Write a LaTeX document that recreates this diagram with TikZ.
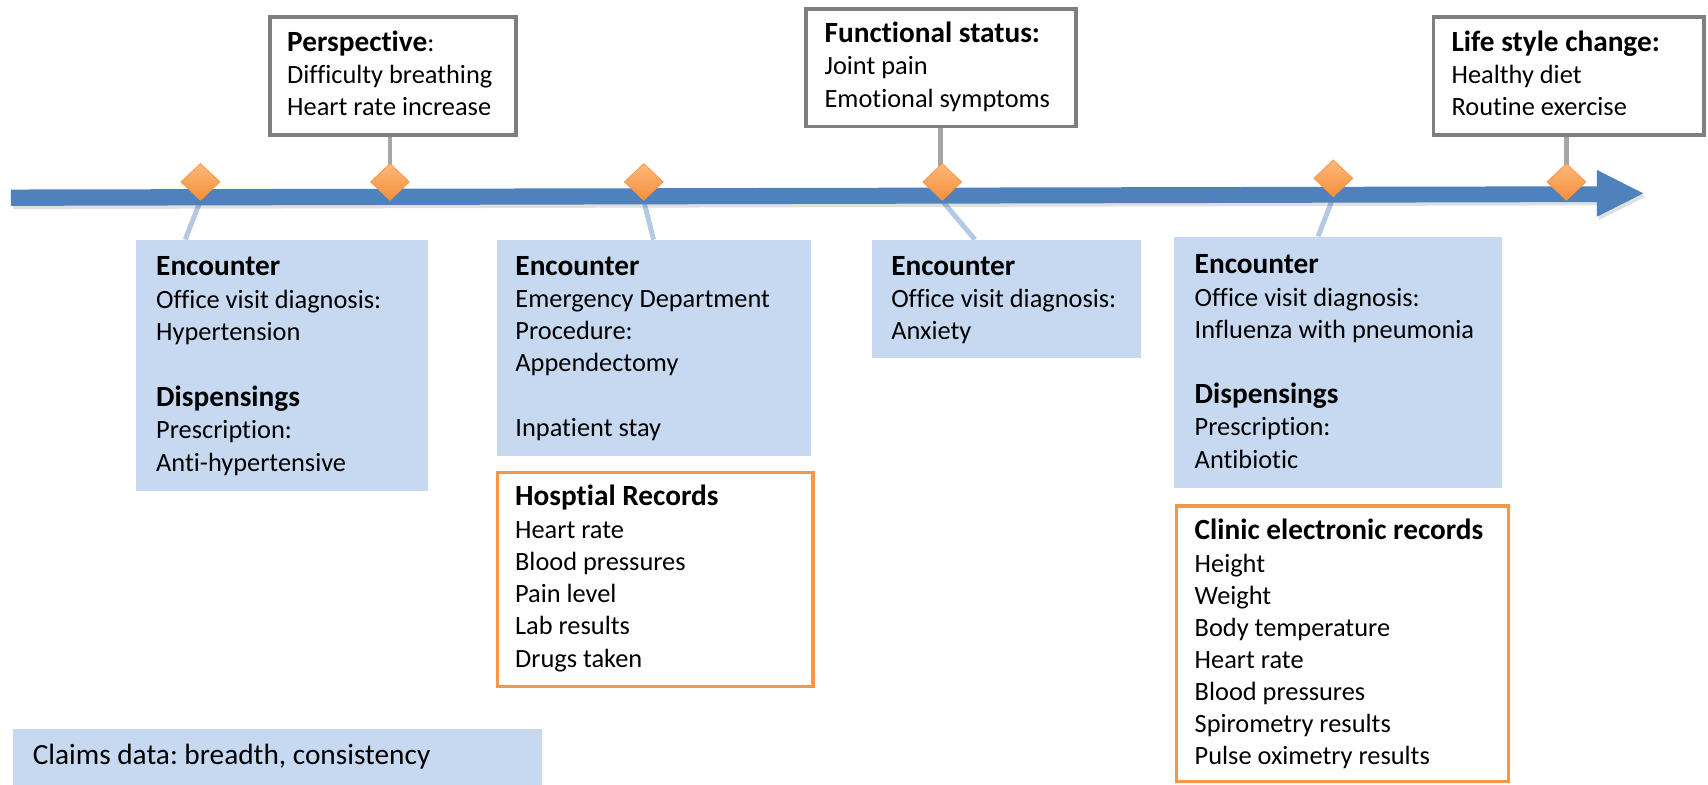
\documentclass[tikz,border=0pt]{standalone}
\usepackage{fontspec}
\setmainfont{Carlito}[Ligatures={NoCommon}]
\frenchspacing
\usetikzlibrary{shapes.geometric}
\definecolor{barblue}{HTML}{4F81BD}
\definecolor{boxblue}{HTML}{C6D9F1}
\definecolor{connblue}{HTML}{B4C9E4}
\definecolor{orangeline}{HTML}{F79646}
\definecolor{orangetop}{HTML}{FFB87A}
\definecolor{orangebot}{HTML}{F68F3A}
\definecolor{grayline}{HTML}{7F7F7F}
\definecolor{grayconn}{HTML}{A5A5A5}
\pgfdeclarelayer{bg}
\pgfsetlayers{bg,main}
\tikzset{
  txt/.style={anchor=base west, inner sep=0pt, font=\fontsize{24.2}{29.6}\selectfont},
  bluebox/.style={fill=boxblue, draw=none, anchor=north west, inner sep=0pt},
  graybox/.style={fill=white, draw=grayline, line width=3.5pt, anchor=north west, inner sep=0pt},
  orbox/.style={fill=white, draw=orangeline, line width=3pt, anchor=north west, inner sep=0pt},
  marker/.style={diamond, minimum width=36pt, minimum height=34pt, inner sep=0pt,
    draw=orangeline, line width=0.6pt, top color=orangetop, bottom color=orangebot},
  upconn/.style={draw=grayconn, line width=4.5pt},
  lowconn/.style={draw=connblue, line width=4.5pt},
}
\newcommand\hd[1]{{\fontsize{26.9}{29.6}\selectfont\bfseries #1}}
\newcommand\txtlines[5]{%
  \foreach \t [count=\i from 0] in {#5} {\node[txt] (#1\i) at (#2,{#3+#4*\i}) {\t};}}
\begin{document}
\begin{tikzpicture}[x=1pt,y=-1pt]
\useasboundingbox (0,0) rectangle (1568,720);

% boxes
\node[graybox, minimum width=226pt, minimum height=108.5pt] (persp) at (245.75,13.75) {};
\node[graybox, minimum width=247.4pt, minimum height=108pt] (func) at (738.4,6.4) {};
\node[graybox, minimum width=248pt, minimum height=108pt] (life) at (1314.3,14) {};
\node[bluebox, minimum width=267.5pt, minimum height=230.5pt] (b1) at (125,220) {};
\node[bluebox, minimum width=288pt, minimum height=198pt] (b2) at (456,220) {};
\node[bluebox, minimum width=247pt, minimum height=108pt] (b3) at (800,220) {};
\node[bluebox, minimum width=300.7pt, minimum height=231pt] (b4) at (1077.6,217) {};
\node[orbox, minimum width=289.6pt, minimum height=196.8pt] (hosp) at (455.3,432.1) {};
\node[orbox, minimum width=304.8pt, minimum height=253.1pt] (clinic) at (1078.4,463) {};
\node[bluebox, minimum width=485pt, minimum height=60pt] (claims) at (12,668.6) {};

% markers
\node[marker] (d1) at (184,167) {};
\node[marker] (d2) at (358,167) {};
\node[marker] (d3) at (591,167) {};
\node[marker] (d4) at (865,167) {};
\node[marker] (d5) at (1224,163.7) {};
\node[marker] (d6) at (1438,167) {};

\begin{pgfonlayer}{bg}
  \coordinate (arrowtip) at (1508.5,177.5);
  \draw[lowconn] (d1.south) -- ([xshift=45pt]b1.north west);
  \draw[lowconn] (d3.south) -- ([xshift=144pt]b2.north west);
  \draw[lowconn] (d4.south) -- ([xshift=95pt]b3.north west);
  \draw[lowconn] (d5.south) -- ([xshift=132.4pt]b4.north west);
  \draw[upconn] (d2.center) -- (d2 |- persp.south);
  \draw[upconn] ([xshift=-2pt]d4.center) -- ([xshift=-2pt]d4 |- func.south);
  \draw[upconn] (d6.center) -- (d6 |- life.south);
  \fill[black, opacity=0.12] (12,177) -- (1468,174) -- (1468,159) -- (1511,180.5) -- (1468,202) -- (1468,188.5) -- (12,192) -- cycle;
  \fill[barblue] (10,174) -- (1466,171) -- (1466,156) -- (arrowtip) -- (1466,199) -- (1466,185.5) -- (10,189) -- cycle;
\end{pgfonlayer}

% texts
\txtlines{tp}{263.5}{47}{29.7}{\hd{Perspective}:,Difficulty breathing,Heart rate increase}
\txtlines{tf}{756.8}{39.2}{29.65}{\hd{Functional status:},Joint pain,Emotional symptoms}
\txtlines{tl}{1332.4}{47.4}{29.1}{\hd{Life style change:},Healthy diet,Routine exercise}
\txtlines{ta}{143.2}{253}{30}{\hd{Encounter},Office visit diagnosis:,Hypertension}
\txtlines{tb}{143.2}{373}{30}{\hd{Dispensings},Prescription:,Anti-hypertensive}
\txtlines{tc}{473}{253}{29.5}{\hd{Encounter},Emergency Department,Procedure:,Appendectomy}
\node[txt] (tc4) at (473,400.5) {Inpatient stay};
\txtlines{td}{818}{253}{29.5}{\hd{Encounter},Office visit diagnosis:,Anxiety}
\txtlines{te}{1096.6}{251.5}{29.7}{\hd{Encounter},Office visit diagnosis:,Influenza with pneumonia}
\txtlines{tg}{1096.6}{370.5}{29.7}{\hd{Dispensings},Prescription:,Antibiotic}
\txtlines{th}{472.7}{464.5}{29.6}{\hd{Hosptial Records},Heart rate,Blood pressures,Pain level,Lab results,Drugs taken}
\txtlines{tk}{1096.6}{495.7}{29.5}{\hd{Clinic electronic records},Height,Weight,Body temperature,Heart rate,Blood pressures,Spirometry results,Pulse oximetry results}
\node[txt, font=\fontsize{26.9}{29.6}\selectfont] (tclaims) at (29.9,702) {Claims data: breadth, consistency};
\end{tikzpicture}
\end{document}
